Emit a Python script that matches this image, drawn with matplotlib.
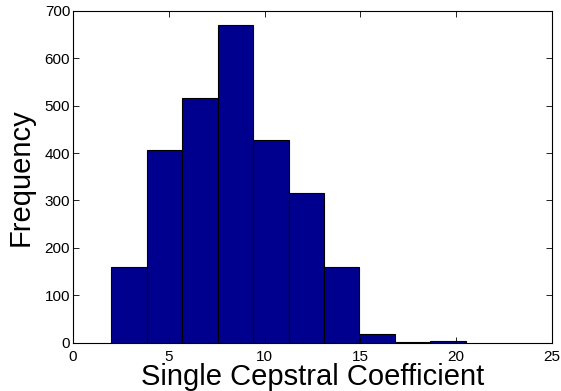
import matplotlib
matplotlib.use("Agg")
import matplotlib.pyplot as plt
import numpy as np

# Histogram data (bin edges and counts)
bin_edges = [2.0, 3.85, 5.7, 7.55, 9.4, 11.25, 13.1, 14.95, 16.8, 18.65, 20.5]
counts = [160, 406, 515, 670, 427, 316, 160, 19, 1, 3]
x_ticks = [0, 5, 10, 15, 20, 25]
y_ticks = [0, 100, 200, 300, 400, 500, 600, 700]

plt.rcParams['font.family'] = ['Liberation Sans', 'DejaVu Sans']

fig = plt.figure(figsize=(5.61, 3.91), dpi=100)
ax = fig.add_axes([0.130, 0.1235, 0.854, 0.849])

edges = np.array(bin_edges)
widths = np.diff(edges)
ax.bar(edges[:-1], counts, width=widths, align='edge',
       color='#00008F', edgecolor='black', linewidth=0.8)

ax.set_xlim(0, 25)
ax.set_ylim(0, 700)
ax.set_xticks(x_ticks)
ax.set_yticks(y_ticks)
ax.tick_params(direction='in', top=True, right=True, length=4, width=0.6,
               labelsize=11)
ax.tick_params(axis='x', pad=5.5)
ax.tick_params(axis='y', pad=2)
for s in ax.spines.values():
    s.set_linewidth(0.8)

ax.set_xlabel('Single Cepstral Coefficient', fontsize=21, labelpad=-1)
ax.set_ylabel('Frequency', fontsize=21, labelpad=7)

fig.savefig('out.png', dpi=100)
